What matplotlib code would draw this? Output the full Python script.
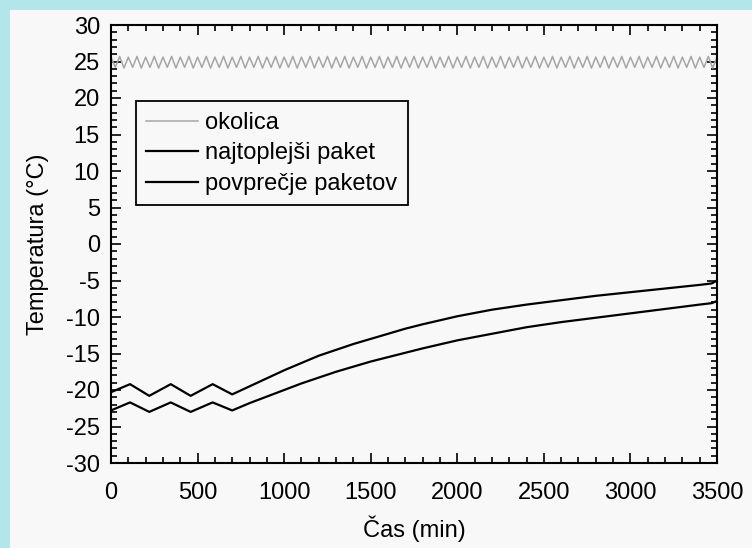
import matplotlib.pyplot as plt
from matplotlib.patches import Rectangle
from matplotlib.ticker import MultipleLocator

plt.rcParams['font.family'] = ['Liberation Sans', 'DejaVu Sans']
plt.rcParams['axes.unicode_minus'] = False

# okolica - ambient temperature, sampled every 25 min
amb_time = list(range(0, 3525, 25))
amb_temp = [25.6, 24.2, 25.7, 24.1, 25.6, 24.2, 25.7, 24.1, 25.6, 24.2, 25.7, 24.1,
            25.6, 24.2, 25.7, 24.1, 25.6, 24.2, 25.7, 24.1, 25.6, 24.2, 25.7, 24.1,
            25.6, 24.2, 25.7, 24.1, 25.6, 24.2, 25.7, 24.1, 25.6, 24.2, 25.7, 24.1,
            25.6, 24.2, 25.7, 24.1, 25.6, 24.2, 25.7, 24.1, 25.6, 24.2, 25.7, 24.1,
            25.6, 24.2, 25.7, 24.1, 25.6, 24.2, 25.7, 24.1, 25.6, 24.2, 25.7, 24.1,
            25.6, 24.2, 25.7, 24.1, 25.6, 24.2, 25.7, 24.1, 25.6, 24.2, 25.7, 24.1,
            25.6, 24.2, 25.7, 24.1, 25.6, 24.2, 25.7, 24.1, 25.6, 24.2, 25.7, 24.1,
            25.6, 24.2, 25.7, 24.1, 25.6, 24.2, 25.7, 24.1, 25.6, 24.2, 25.7, 24.1,
            25.6, 24.2, 25.7, 24.1, 25.6, 24.2, 25.7, 24.1, 25.6, 24.2, 25.7, 24.1,
            25.6, 24.2, 25.7, 24.1, 25.6, 24.2, 25.7, 24.1, 25.6, 24.2, 25.7, 24.1,
            25.6, 24.2, 25.7, 24.1, 25.6, 24.2, 25.7, 24.1, 25.6, 24.2, 25.7, 24.1,
            25.6, 24.2, 25.7, 24.1, 25.6, 24.2, 25.7, 24.1, 25.6]

# package temperatures
pkt_time = [0, 110, 221, 345, 460, 587, 700, 800, 900, 1000, 1100, 1200, 1300, 1400,
            1500, 1600, 1700, 1800, 2000, 2200, 2400, 2600, 2800, 3000, 3200, 3400,
            3470, 3500]
warmest = [-20.3, -19.2, -20.8, -19.2, -20.8, -19.2, -20.6, -19.5, -18.4, -17.3, -16.3,
           -15.3, -14.5, -13.7, -13.0, -12.3, -11.6, -11.0, -9.9, -9.0, -8.3, -7.7,
           -7.1, -6.6, -6.1, -5.6, -5.4, -5.0]
average = [-22.8, -21.7, -23.0, -21.7, -23.0, -21.7, -22.8, -21.8, -20.9, -20.0, -19.1,
           -18.3, -17.5, -16.8, -16.1, -15.5, -14.9, -14.3, -13.2, -12.3, -11.4, -10.7,
           -10.1, -9.5, -8.9, -8.3, -8.1, -7.8]

fig = plt.figure(figsize=(7.52, 5.48), dpi=100)
fig.patch.set_facecolor('#b3e6eb')
fig.patches.append(Rectangle((10 / 752, 0), 1, 1 - 10 / 548, transform=fig.transFigure,
                             facecolor='#f8f8f8', edgecolor='none', zorder=-10))

ax = fig.add_axes([111 / 752, 1 - 463 / 548, 606 / 752, 438 / 548])
ax.set_facecolor('#f8f8f8')

ax.plot(amb_time, amb_temp, color='#a6a6a6', lw=1.1, label='okolica')
ax.plot(pkt_time, warmest, color='black', lw=1.6, label='najtoplejši paket')
ax.plot(pkt_time, average, color='black', lw=1.6, label='povprečje paketov')

ax.set_xlim(0, 3500)
ax.set_ylim(-30, 30)
ax.xaxis.set_major_locator(MultipleLocator(500))
ax.xaxis.set_minor_locator(MultipleLocator(100))
ax.yaxis.set_major_locator(MultipleLocator(5))
ax.yaxis.set_minor_locator(MultipleLocator(1))
ax.tick_params(which='both', direction='in', top=True, right=True, width=1.2, labelsize=17)
ax.tick_params(which='major', length=7)
ax.tick_params(which='minor', length=4)
ax.tick_params(axis='x', pad=14)
ax.tick_params(axis='y', pad=8)
for s in ax.spines.values():
    s.set_linewidth(1.5)

ax.set_xlabel('Čas (min)', fontsize=17, labelpad=8)
ax.set_ylabel('Temperatura (°C)', fontsize=17, labelpad=12)

leg = ax.legend(loc='upper left', bbox_to_anchor=(0.041, 0.826), borderaxespad=0,
                fontsize=17, frameon=True, fancybox=False, edgecolor='black',
                framealpha=1, facecolor='#f8f8f8', handlelength=2.2,
                handletextpad=0.3, labelspacing=0.36, borderpad=0.45)
leg.get_frame().set_linewidth(1.3)

fig.savefig('out.png', dpi=100, facecolor=fig.get_facecolor())
